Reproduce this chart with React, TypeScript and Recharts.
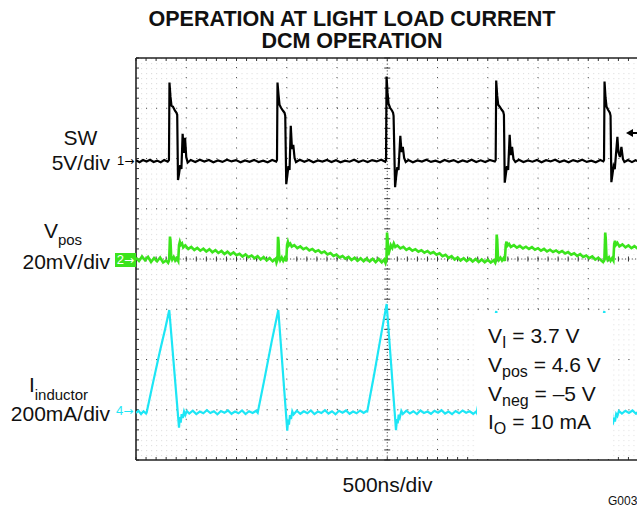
import { ComposedChart, Line, XAxis, YAxis, ReferenceLine, ReferenceArea } from "recharts";

// time axis in ns (500 ns/div, 10 div), traces in their own units
const swPoints: [number, number][] = [
  [0, 0.08], [35, -0.12], [70, 0.1], [105, -0.05], [140, 0.12], [175, -0.1], [210, 0.04], [245, -0.13], [280, 0.09], [315, -0.06],
  [328, 0.1], [333, 7.8], [343, 6.4], [353, 5.5], [368, 5.4], [388, 5.0], [403, 4.8], [410, 4.6], [418, -1.9], [428, -1.3], [440, -0.4], [452, -0.8], [464, 2.7], [476, 0.8], [488, 2.3], [500, 0.4], [514, -0.15],
  [545, 0.1], [590, -0.1], [635, 0.12], [680, -0.06], [725, 0.1], [770, -0.12], [815, 0.05], [860, -0.09], [905, 0.13], [950, -0.04], [995, 0.09], [1040, -0.13], [1085, 0.06], [1130, -0.08], [1175, 0.11], [1220, -0.1], [1265, 0.04], [1310, -0.12], [1355, 0.1], [1395, -0.05],
  [1403, 0.1], [1408, 7.8], [1418, 6.6], [1428, 5.6], [1443, 5.3], [1463, 5.0], [1478, 4.8], [1485, 4.5], [1495, -2.3], [1505, -1.5], [1517, -0.5], [1528, -0.9], [1540, 3.5], [1552, 1.2], [1565, 1.6], [1578, 0.3], [1592, -0.1],
  [1630, 0.12], [1675, -0.08], [1720, 0.1], [1765, -0.13], [1810, 0.06], [1855, -0.05], [1900, 0.11], [1945, -0.1], [1990, 0.08], [2035, -0.12], [2080, 0.04], [2125, -0.07], [2170, 0.13], [2215, -0.1], [2260, 0.07], [2305, -0.11], [2350, 0.09], [2395, -0.04], [2440, 0.12], [2480, -0.08],
  [2488, 0.1], [2493, 8.4], [2503, 6.8], [2513, 5.7], [2528, 5.3], [2548, 5.0], [2558, 4.8], [2563, 4.5], [2578, -2.6], [2588, -1.6], [2600, -0.6], [2612, -0.9], [2630, 2.5], [2642, 0.9], [2655, 1.4], [2668, 0.3], [2684, -0.1],
  [2710, 0.1], [2755, -0.12], [2800, 0.06], [2845, -0.05], [2890, 0.13], [2935, -0.09], [2980, 0.04], [3025, -0.12], [3070, 0.1], [3115, -0.06], [3160, 0.09], [3205, -0.13], [3250, 0.05], [3295, -0.08], [3340, 0.12], [3385, -0.1], [3430, 0.07], [3475, -0.11], [3520, 0.1], [3570, -0.05],
  [3579, 0.1], [3584, 8.0], [3594, 6.5], [3604, 5.6], [3619, 5.4], [3639, 5.1], [3654, 4.9], [3661, 4.6], [3669, -2.15], [3679, -1.4], [3691, -0.5], [3703, -0.9], [3718, 2.6], [3730, 0.6], [3742, 1.4], [3756, 0.2], [3775, -0.1],
  [3810, 0.12], [3855, -0.1], [3900, 0.05], [3945, -0.07], [3990, 0.11], [4035, -0.12], [4080, 0.08], [4125, -0.04], [4170, 0.13], [4215, -0.1], [4260, 0.06], [4305, -0.12], [4350, 0.09], [4395, -0.05], [4440, 0.12], [4485, -0.09], [4530, 0.04], [4575, -0.13], [4620, 0.1], [4650, -0.04],
  [4657, 0.1], [4662, 7.9], [4672, 6.3], [4682, 5.4], [4697, 5.1], [4715, 4.8], [4722, 4.5], [4730, -2.1], [4740, -1.4], [4752, -0.5], [4764, -0.8], [4790, 2.4], [4800, 0.9], [4815, 0.4], [4830, 1.4], [4845, 0.2], [4860, -0.1],
  [4895, 0.1], [4935, -0.11], [4970, 0.07], [5000, -0.05],
];

const vposPoints: [number, number][] = [
  [0, 0.5], [30, -0.8], [60, 1.0], [90, -0.5], [120, 0.8], [150, -1.2], [180, 0.4], [210, -0.9], [240, 0.6], [270, -1.4], [300, -0.6], [320, -1.5],
  [330, -0.5], [338, 8.9], [343, 7.5], [350, 1.0], [360, -0.3], [375, 0.8], [390, -0.6], [405, 0.3], [420, -0.8],
  [428, 5.5], [436, 6.8], [445, 5.6], [458, 6.2], [470, 4.6], [490, 5.4], [520, 4.0], [550, 4.8], [580, 3.6], [610, 4.4], [640, 3.3], [670, 4.1], [700, 3.0], [730, 3.9], [760, 2.7], [790, 3.5], [820, 2.4], [850, 3.2], [880, 2.0], [910, 2.9], [940, 1.8], [970, 2.6], [1000, 1.5], [1030, 2.1], [1060, 1.0], [1090, 1.8], [1120, 0.7], [1150, 1.4], [1180, 0.3], [1210, 1.1], [1240, -0.2], [1270, 0.8], [1300, -0.6], [1330, 0.4], [1360, -0.9], [1390, 0.1], [1398, -1.4],
  [1408, -0.3], [1413, 8.8], [1418, 7.2], [1425, 0.9], [1435, -0.5], [1450, 0.6], [1465, -0.7], [1480, 0.4], [1495, -0.9],
  [1503, 5.6], [1511, 6.8], [1520, 5.4], [1535, 6.1], [1550, 4.9], [1575, 5.5], [1605, 4.3], [1635, 5.0], [1665, 3.9], [1695, 4.5], [1725, 3.4], [1755, 4.0], [1785, 2.9], [1815, 3.5], [1845, 2.4], [1875, 3.0], [1905, 1.8], [1935, 2.4], [1965, 1.2], [1995, 1.8], [2025, 0.6], [2055, 1.2], [2085, 0.1], [2115, 0.8], [2145, -0.4], [2175, 0.5], [2205, -0.7], [2235, 0.3], [2265, -0.9], [2295, 0.2], [2325, -1.0], [2355, 0.1], [2385, -1.2], [2415, 0.0], [2445, -1.3], [2470, -0.2], [2483, -1.6],
  [2492, -0.4], [2498, 10.5], [2503, 8.0], [2510, 1.5], [2520, 3.0], [2535, 5.5], [2550, 4.4], [2565, 6.2], [2580, 4.8], [2600, 5.4], [2630, 4.2], [2660, 4.8], [2690, 3.6], [2720, 4.3], [2750, 3.3], [2780, 3.9], [2810, 2.9], [2840, 3.5], [2870, 2.5], [2900, 3.2], [2930, 2.2], [2960, 2.8], [2990, 1.7], [3020, 2.3], [3050, 1.1], [3080, 1.7], [3110, 0.4], [3140, 1.1], [3170, -0.2], [3200, 0.6], [3230, -0.6], [3260, 0.3], [3290, -0.8], [3320, 0.1], [3350, -1.0], [3380, 0.0], [3410, -1.2], [3440, -0.2], [3470, -1.3], [3500, -0.3], [3530, -1.4], [3560, -0.5], [3575, -1.5],
  [3583, -0.5], [3589, 9.7], [3594, 7.8], [3601, 1.2], [3612, -0.4], [3627, 0.5], [3642, -0.6], [3657, 0.3], [3670, -0.8],
  [3679, 5.6], [3687, 6.9], [3696, 5.3], [3712, 6.0], [3730, 4.8], [3760, 5.5], [3790, 4.5], [3820, 5.2], [3850, 4.2], [3880, 4.9], [3910, 4.0], [3940, 4.7], [3970, 3.7], [4000, 4.3], [4030, 3.3], [4060, 4.0], [4090, 3.0], [4120, 3.7], [4150, 2.8], [4180, 3.4], [4210, 2.5], [4240, 3.2], [4270, 2.2], [4300, 2.8], [4330, 1.7], [4360, 2.3], [4390, 1.2], [4420, 1.9], [4450, 0.8], [4480, 1.4], [4510, 0.3], [4540, 1.0], [4570, -0.2], [4600, 0.5], [4630, -0.6], [4648, -1.2],
  [4660, -0.5], [4669, 10.5], [4674, 8.2], [4681, 1.0], [4692, -0.3], [4707, 0.6], [4722, -0.7], [4737, 0.3], [4750, -0.6],
  [4758, 6.0], [4766, 7.2], [4775, 5.6], [4790, 6.4], [4810, 5.0], [4840, 5.8], [4870, 4.6], [4900, 5.4], [4930, 4.3], [4960, 5.1], [4990, 4.2], [5000, 4.8],
];

const ilPoints: [number, number][] = [
  [0, -4], [25, 5], [50, -8], [75, 3], [100, -6],
  [106, -2], [170, 118], [239, 244], [290, 330], [331, 406], [428, -62], [436, -20], [445, -42], [454, -8], [465, -24], [478, 2], [490, -12], [505, 4],
  [530, -6], [565, 5], [600, -8], [635, 2], [670, -5], [705, 7], [740, -4], [775, 3], [810, -9], [845, 4], [880, -3], [915, 6], [950, -7], [985, 2], [1020, -5], [1055, 6], [1090, -8], [1125, 3], [1160, -4], [1195, 5],
  [1211, -3], [1280, 135], [1350, 280], [1416, 406], [1505, -74], [1514, -30], [1522, -50], [1532, -12], [1543, -28], [1555, 2], [1568, -10],
  [1600, 5], [1635, -7], [1670, 3], [1705, -5], [1740, 6], [1775, -8], [1810, 2], [1845, -4], [1880, 7], [1915, -6], [1950, 3], [1985, -9], [2020, 5], [2055, -3], [2090, 6], [2125, -7], [2160, 2], [2195, -5], [2230, 6], [2265, -4], [2290, 3],
  [2301, 2], [2370, 150], [2440, 310], [2494, 430], [2587, -72], [2596, -28], [2604, -45], [2614, -10], [2625, -22], [2640, 4], [2655, -8],
  [2690, 5], [2725, -6], [2760, 3], [2795, -8], [2830, 6], [2865, -4], [2900, 2], [2935, -7], [2970, 5], [3005, -3], [3040, 7], [3075, -6], [3110, 2], [3145, -8], [3180, 4], [3215, -5], [3250, 6], [3285, -3], [3320, 3], [3355, -7], [3385, 2],
  [3390, -2], [3460, 140], [3520, 275], [3585, 402], [3680, -65], [3690, -25], [3700, -40], [3712, -8], [3725, -20], [3740, 3],
  [3775, -6], [3810, 5], [3845, -4], [3880, 7], [3915, -8], [3950, 3], [3985, -5], [4020, 6], [4055, -3], [4090, 2], [4125, -7], [4160, 5], [4195, -4], [4230, 6], [4265, -8], [4300, 3], [4335, -5], [4370, 6], [4405, -3], [4440, 4],
  [4470, -3], [4540, 140], [4600, 285], [4660, 402], [4745, -50], [4755, -22], [4766, -38], [4778, -8], [4790, -16], [4805, 4],
  [4835, -6], [4870, 5], [4905, -4], [4940, 6], [4975, -7], [5000, 3],
];

const conditions = [
  { main: "V", sub: "I", rest: " = 3.7 V" },
  { main: "V", sub: "pos", rest: " = 4.6 V" },
  { main: "V", sub: "neg", rest: " = \u20135 V" },
  { main: "I", sub: "O", rest: " = 10 mA" },
];

const toRows = (pts: [number, number][]) => pts.map(([t, v]) => ({ t, v }));

const GREEN = "#3be41c";
const CYAN = "#1de6f5";
const FONT = "'Liberation Sans', Arial, Helvetica, sans-serif";

const majorX = [500, 1000, 1500, 2000, 3000, 3500, 4000, 4500];
const majorY = [1, 2, 3, 5, 6, 7];
const minorX = Array.from({ length: 51 }, (_, i) => i * 100);
const minorY = Array.from({ length: 41 }, (_, i) => Math.round(i * 20) / 100);

function Txt({ x, y, size = 21, children, style }: any) {
  return (
    <div style={{ position: "absolute", left: x, top: y, fontSize: size, lineHeight: "25px", whiteSpace: "nowrap", ...style }}>
      {children}
    </div>
  );
}

const arrow = { fontFamily: "'DejaVu Sans', sans-serif", fontSize: 12 };

export default function App() {
  return (
    <div style={{ position: "absolute", left: 0, top: 0, width: 637, height: 512, overflow: "hidden", background: "#fff", fontFamily: FONT, color: "#111" }}>
      <div style={{ position: "absolute", left: 0, top: 8, width: 704, textAlign: "center", fontWeight: "bold", fontSize: 21.5, lineHeight: "22px" }}>
        OPERATION AT LIGHT LOAD CURRENT
        <br />
        DCM OPERATION
      </div>

      <ComposedChart width={660} height={512} margin={{ top: 58, right: 21.5, bottom: 52, left: 136 }} style={{ position: "absolute", left: 0, top: 0 }}>
        <defs>
          <pattern id="scopeDots" x={136} y={58} width={5.025} height={5.025} patternUnits="userSpaceOnUse">
            <rect width={1} height={1} fill="#dcdcdc" />
          </pattern>
        </defs>
        <XAxis dataKey="t" type="number" domain={[0, 5000]} allowDataOverflow hide />
        <YAxis yAxisId="grid" type="number" domain={[0, 8]} allowDataOverflow hide />
        <YAxis yAxisId="sw" type="number" domain={[-29.75, 10.25]} allowDataOverflow hide />
        <YAxis yAxisId="vp" type="number" domain={[-80, 80]} allowDataOverflow hide />
        <YAxis yAxisId="il" type="number" domain={[-191, 1409]} allowDataOverflow hide />

        <ReferenceArea yAxisId="grid" x1={0} x2={5000} y1={0} y2={8} fill="url(#scopeDots)" fillOpacity={1} stroke="none" />

        {majorX.map((t) => (
          <ReferenceLine key={"mx" + t} yAxisId="grid" x={t} stroke="#444" strokeDasharray="1 9.05" />
        ))}
        {majorY.map((d) => (
          <ReferenceLine key={"my" + d} yAxisId="grid" y={d} stroke="#444" strokeDasharray="1 9.05" />
        ))}
        <ReferenceLine yAxisId="grid" x={2500} stroke="#333" strokeDasharray="1 2.35" />
        <ReferenceLine yAxisId="grid" y={4} stroke="#333" strokeDasharray="1 2.35" />

        {/* minor ticks on centre lines and on the frame */}
        {minorX.map((t) => (
          <ReferenceLine key={"cx" + t} yAxisId="grid" segment={[{ x: t, y: 3.95 }, { x: t, y: 4.05 }]} stroke="#333" />
        ))}
        {minorY.map((d) => (
          <ReferenceLine key={"cy" + d} yAxisId="grid" segment={[{ x: 2470, y: d }, { x: 2530, y: d }]} stroke="#333" />
        ))}
        {minorX.map((t) => (
          <ReferenceLine key={"bx" + t} yAxisId="grid" segment={[{ x: t, y: 0 }, { x: t, y: 0.06 }]} stroke="#333" />
        ))}
        {minorX.map((t) => (
          <ReferenceLine key={"tx" + t} yAxisId="grid" segment={[{ x: t, y: 8 }, { x: t, y: 7.94 }]} stroke="#333" />
        ))}
        {minorY.map((d) => (
          <ReferenceLine key={"ly" + d} yAxisId="grid" segment={[{ x: 0, y: d }, { x: 30, y: d }]} stroke="#333" />
        ))}
        <ReferenceLine yAxisId="grid" x={0} stroke="#222" strokeWidth={1.6} />
        <ReferenceLine yAxisId="grid" y={0} stroke="#222" strokeWidth={1.6} />
        <ReferenceLine yAxisId="grid" y={8} stroke="#222" strokeWidth={1.6} />

        <Line data={toRows(ilPoints)} yAxisId="il" dataKey="v" type="linear" stroke={CYAN} strokeWidth={2.2} dot={false} isAnimationActive={false} />
        <Line data={toRows(vposPoints)} yAxisId="vp" dataKey="v" type="linear" stroke={GREEN} strokeWidth={2.6} dot={false} isAnimationActive={false} />
        <Line data={toRows(swPoints)} yAxisId="sw" dataKey="v" type="linear" stroke="#000" strokeWidth={2.2} dot={false} isAnimationActive={false} />
      </ComposedChart>

      {/* channel labels */}
      <Txt x={30.5} y={125.2} style={{ width: 100, textAlign: "center" }}>SW</Txt>
      <Txt x={0} y={150.2} style={{ width: 110, textAlign: "right" }}>5V/div</Txt>
      <Txt x={13} y={218.2} style={{ width: 100, textAlign: "center" }}>
        V<span style={{ fontSize: 15, position: "relative", top: 7 }}>pos</span>
      </Txt>
      <Txt x={0} y={249.2} style={{ width: 110, textAlign: "right" }}>20mV/div</Txt>
      <Txt x={8.5} y={372.2} style={{ width: 100, textAlign: "center" }}>
        I<span style={{ fontSize: 15, position: "relative", top: 8 }}>inductor</span>
      </Txt>
      <Txt x={0} y={401.2} style={{ width: 110, textAlign: "right" }}>200mA/div</Txt>

      {/* channel markers */}
      <div style={{ position: "absolute", left: 117, top: 153, fontSize: 13, lineHeight: "16px", color: "#000", whiteSpace: "nowrap" }}>
        1<span style={arrow}>→</span>
      </div>
      <div style={{ position: "absolute", left: 115, top: 253, width: 21, height: 14, background: GREEN, color: "#fff", fontSize: 13, lineHeight: "14px", textAlign: "center", whiteSpace: "nowrap" }}>
        2<span style={arrow}>→</span>
      </div>
      <div style={{ position: "absolute", left: 116, top: 403, fontSize: 13, lineHeight: "16px", color: CYAN, whiteSpace: "nowrap" }}>
        4<span style={arrow}>→</span>
      </div>

      {/* trigger level arrow */}
      <div style={{ position: "absolute", left: 626, top: 128.5, width: 0, height: 0, borderTop: "4.5px solid transparent", borderBottom: "4.5px solid transparent", borderRight: "7px solid #000" }} />
      <div style={{ position: "absolute", left: 632, top: 132, width: 6, height: 2, background: "#000" }} />

      {/* conditions box */}
      <div style={{ position: "absolute", left: 477, top: 313, width: 136, height: 146, background: "#fff" }}>
        {conditions.map((c, i) => (
          <div key={i} style={{ position: "absolute", left: 11, top: 9.4 + i * 28.67, fontSize: 21, lineHeight: "28.67px", whiteSpace: "nowrap" }}>
            {c.main}
            <span style={{ fontSize: 16, position: "relative", top: 5 }}>{c.sub}</span>
            {c.rest}
          </div>
        ))}
      </div>

      <Txt x={287.5} y={472.2} style={{ width: 200, textAlign: "center" }}>500ns/div</Txt>
      <div style={{ position: "absolute", left: 608, top: 493.8, fontSize: 12, lineHeight: "14px" }}>G003</div>
    </div>
  );
}
